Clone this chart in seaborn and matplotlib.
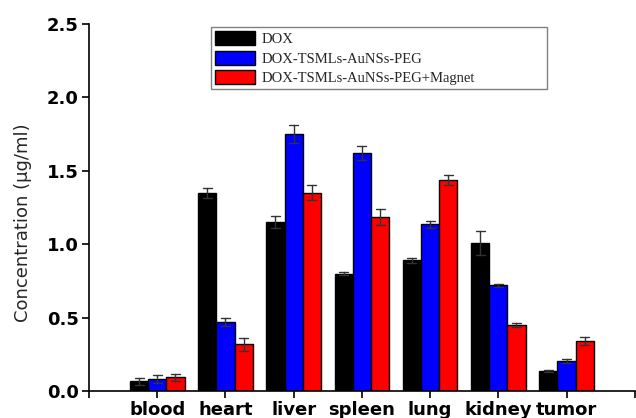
import numpy as np
import pandas as pd
import matplotlib
matplotlib.use("Agg")
import matplotlib.pyplot as plt
import seaborn as sns

organs = ["blood", "heart", "liver", "spleen", "lung", "kidney", "tumor"]
groups = ["DOX", "DOX-TSMLs-AuNSs-PEG", "DOX-TSMLs-AuNSs-PEG+Magnet"]

dox = [0.066, 1.349, 1.151, 0.800, 0.890, 1.006, 0.138]
dox_err = [0.023, 0.032, 0.040, 0.008, 0.018, 0.083, 0.006]
peg = [0.082, 0.468, 1.751, 1.623, 1.135, 0.720, 0.204]
peg_err = [0.030, 0.027, 0.060, 0.048, 0.025, 0.010, 0.014]
mag = [0.093, 0.318, 1.351, 1.187, 1.437, 0.452, 0.340]
mag_err = [0.025, 0.045, 0.052, 0.055, 0.036, 0.013, 0.028]

colors = ["#000000", "#0000FF", "#FF0000"]

rows = []
for g, vals, errs in zip(groups, [dox, peg, mag], [dox_err, peg_err, mag_err]):
    for o, v, e in zip(organs, vals, errs):
        rows.append({"organ": o, "group": g, "value": v - e})
        rows.append({"organ": o, "group": g, "value": v + e})
df = pd.DataFrame(rows)

sns.set_style("ticks")
plt.rcParams["font.family"] = ["DejaVu Sans"]

fig = plt.figure(figsize=(6.36, 4.18), dpi=100)
ax = fig.add_axes([0.140, 0.0646, 0.858, 0.878])

sns.barplot(data=df, x="organ", y="value", hue="group", order=organs,
            hue_order=groups, palette=colors, saturation=1, estimator="mean",
            errorbar=lambda x: (x.min(), x.max()), capsize=0.4,
            err_kws={"color": "#333333", "linewidth": 1.0},
            edgecolor="black", linewidth=1.0, width=0.8, ax=ax)

ax.set_xlim(-1, 7)
ax.set_ylim(0, 2.5)
ax.set_yticks([0.0, 0.5, 1.0, 1.5, 2.0, 2.5])
ax.set_yticklabels(["0.0", "0.5", "1.0", "1.5", "2.0", "2.5"],
                   fontsize=13, fontweight="bold")
ax.set_xticks(range(-1, 8))
ax.set_xticklabels([""] + organs + [""], fontsize=13, fontweight="bold")
ax.set_xlabel("")
ax.set_ylabel("Concentration (\u03bcg/ml)", fontsize=13)
ax.yaxis.set_label_coords(-0.104, 0.459)

ax.tick_params(axis="both", direction="out", length=5, width=1.2, pad=2.5,
               colors="black")
for s in ["left", "bottom"]:
    ax.spines[s].set_linewidth(1.2)
    ax.spines[s].set_color("black")
sns.despine(ax=ax)

handles, labels = ax.get_legend_handles_labels()
leg = ax.legend(handles, labels, loc="upper left",
                bbox_to_anchor=(0.2234, 0.8202, 0.6154, 0.1716),
                mode="expand", borderaxespad=0, frameon=True, fancybox=False,
                framealpha=1, edgecolor="#808080",
                prop={"family": "Liberation Serif", "size": 10.5},
                handlelength=2.7, handleheight=1.1, handletextpad=0.45,
                labelspacing=0.3, borderpad=0.3)
leg.get_frame().set_linewidth(1.0)

fig.savefig("out.png", dpi=100)
